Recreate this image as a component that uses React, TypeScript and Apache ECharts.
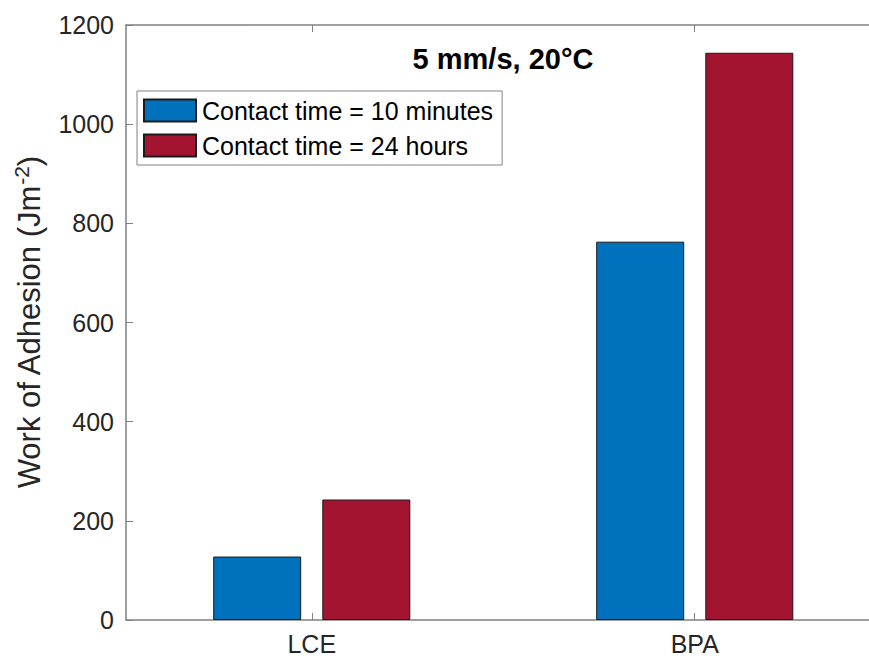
import React, { useEffect, useRef } from "react";
import * as echarts from "echarts";

// Samples and measured work of adhesion (J m^-2)
const categories = ["LCE", "BPA"];
const seriesNames = ["Contact time = 10 minutes", "Contact time = 24 hours"];
const tenMinutes = [128, 763];
const twentyFourHours = [243, 1144];
const yTicks = { min: 0, max: 1200, interval: 200 };
const titleText = "5 mm/s, 20°C";

const FONT = "'Liberation Sans', Arial, Helvetica, sans-serif";
const BLUE = "#0072BD";
const RED = "#A2142F";
const AXIS = "#808080";
const TEXT = "#262626";

export default function App() {
  const ref = useRef<HTMLDivElement>(null);

  useEffect(() => {
    if (!ref.current) return;
    const chart = echarts.init(ref.current, null, { renderer: "svg" });
    const positions = categories.map((_, i) => i + 1);

    const xCommon = {
      type: "value" as const,
      min: 0.515,
      max: 2.485,
      splitLine: { show: false },
      axisLine: { show: true, onZero: false, lineStyle: { color: AXIS, width: 1.5 } },
    };

    chart.setOption({
      animation: false,
      backgroundColor: "#ffffff",
      textStyle: { fontFamily: FONT },
      grid: {
        left: 126,
        right: -11.5,
        top: 25,
        bottom: 38,
        containLabel: false,
        outerBoundsMode: "none",
      },
      legend: {
        orient: "vertical",
        left: 137,
        top: 91,
        padding: [7, 9, 7, 6],
        itemGap: 10,
        itemWidth: 52,
        itemHeight: 22,
        icon: "rect",
        borderColor: AXIS,
        borderWidth: 1,
        backgroundColor: "#ffffff",
        textStyle: { fontFamily: FONT, fontSize: 25, color: "#000", lineHeight: 22, padding: [0, 0, 0, 1] },
        data: seriesNames,
      },
      graphic: [
        {
          type: "text",
          x: 503,
          y: 59,
          style: {
            text: titleText,
            font: `bold 29px ${FONT}`,
            fill: "#000",
            textAlign: "center",
            textVerticalAlign: "middle",
          },
        },
      ],
      xAxis: [
        {
          ...xCommon,
          position: "bottom",
          axisTick: { show: true, inside: true, length: 7, customValues: positions, lineStyle: { color: AXIS } },
          axisLabel: {
            show: true,
            customValues: positions,
            margin: 11,
            fontSize: 25,
            color: TEXT,
            fontFamily: FONT,
            formatter: (v: number) => categories[Math.round(v) - 1] ?? "",
          },
        },
        {
          ...xCommon,
          position: "top",
          axisTick: { show: true, inside: true, length: 7, customValues: positions, lineStyle: { color: AXIS } },
          axisLabel: { show: false },
        },
      ],
      yAxis: {
        type: "value",
        min: yTicks.min,
        max: yTicks.max,
        interval: yTicks.interval,
        splitLine: { show: false },
        axisLine: { show: true, lineStyle: { color: AXIS, width: 1.5 } },
        axisTick: { show: true, inside: true, length: 7, lineStyle: { color: AXIS } },
        axisLabel: {
          margin: 12,
          fontSize: 25,
          color: TEXT,
          fontFamily: FONT,
          formatter: (v: number) => String(v),
        },
        name: "Work of Adhesion (Jm{sup|-2})",
        nameLocation: "middle",
        nameRotate: 90,
        nameGap: 76,
        nameTextStyle: {
          fontSize: 31,
          color: TEXT,
          fontFamily: FONT,
          lineHeight: 36,
          rich: {
            sup: { fontSize: 21, color: TEXT, fontFamily: FONT, verticalAlign: "top", lineHeight: 36 },
          },
        },
      },
      series: [
        {
          name: seriesNames[0],
          type: "bar",
          xAxisIndex: 0,
          barWidth: 88,
          barGap: "24%",
          itemStyle: { color: BLUE, borderColor: "#1a1a1a", borderWidth: 1 },
          data: tenMinutes.map((v, i) => [positions[i], v]),
        },
        {
          name: seriesNames[1],
          type: "bar",
          xAxisIndex: 0,
          barWidth: 88,
          barGap: "24%",
          itemStyle: { color: RED, borderColor: "#1a1a1a", borderWidth: 1 },
          data: twentyFourHours.map((v, i) => [positions[i], v]),
        },
      ],
    });

    return () => chart.dispose();
  }, []);

  return (
    <div
      ref={ref}
      style={{ position: "fixed", left: 0, top: 0, width: 869, height: 658 }}
    />
  );
}
